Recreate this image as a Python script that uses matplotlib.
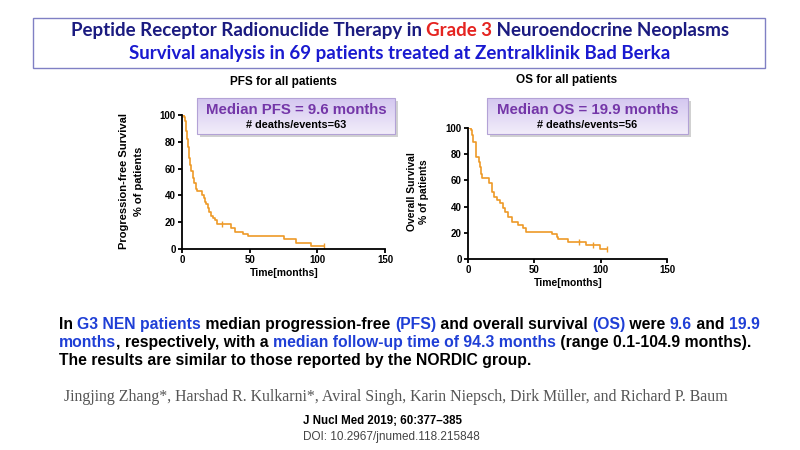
import matplotlib
matplotlib.use('Agg')
import matplotlib.pyplot as plt
import numpy as np
from matplotlib.patches import Rectangle

# Kaplan-Meier step data (time in months, survival in %)
pfs_t = [0, 1.5, 2.5, 3, 3.5, 4.5, 5.5, 6, 7, 8, 9, 10, 11, 15, 16, 17, 18, 19, 20,
         21.5, 23, 24.5, 26, 36, 39, 45, 49, 75, 84, 95, 105]
pfs_s = [100, 98.6, 95.7, 88, 82, 76, 68, 63, 58, 53, 49, 45, 43.5, 40.6, 37.7, 34.8,
         33.3, 30.4, 27.5, 24.6, 23.2, 21.7, 18.8, 15.9, 13.0, 11.5, 9.5, 7.5, 4.8, 2.0, 2.0]
pfs_cens_t = [29.5, 105]
pfs_cens_s = [18.8, 2.0]

os_t = [0, 2.3, 3.2, 4, 5.8, 8.3, 9, 9.8, 10.3, 16, 18.3, 19.8, 21.6, 24, 26.6, 27.9,
        30, 33, 38, 41.7, 43.5, 63, 67, 68, 75, 89, 99.5, 104.5]
os_s = [100, 98.6, 95, 89.6, 78, 74, 70.5, 65, 61.6, 57.8, 51, 47.6, 45, 42.5, 38.7, 36,
        32, 28.5, 26, 23.4, 20.8, 19, 17, 15, 13, 10.7, 7.6, 7.6]
os_cens_t = [83.4, 94.5, 104.5]
os_cens_s = [13, 10.7, 7.6]

x_ticks = [0, 50, 100, 150]
y_ticks = [0, 20, 40, 60, 80, 100]

curve_col = '#ee9a28'
sans = ['Liberation Sans', 'DejaVu Sans']

fig = plt.figure(figsize=(8, 4.5), dpi=100)
W, H = 800, 450


def px_axes(left, top, right, bottom):
    return fig.add_axes([left / W, 1 - bottom / H, (right - left) / W, (bottom - top) / H])


def km_plot(ax, t, s, ct, cs, fs):
    ax.step(t, s, where='post', color=curve_col, lw=1.2)
    ax.plot(ct, cs, ls='none', marker='|', ms=5, mew=1.0, color=curve_col)
    ax.set_xlim(0, 150)
    ax.set_ylim(0, 100)
    ax.set_xticks(x_ticks)
    ax.set_yticks(y_ticks)
    for sp in ['top', 'right']:
        ax.spines[sp].set_visible(False)
    for sp in ['left', 'bottom']:
        ax.spines[sp].set_linewidth(1.3)
    ax.tick_params(length=3, width=1.3, labelsize=fs, pad=1.5)
    for lab in ax.get_xticklabels() + ax.get_yticklabels():
        lab.set_fontweight('bold')
        lab.set_family(sans)
    ax.patch.set_alpha(0)


# PFS chart
ax1 = px_axes(182, 115, 385, 249)
km_plot(ax1, pfs_t, pfs_s, pfs_cens_t, pfs_cens_s, 7)

# OS chart
ax2 = px_axes(468, 128, 667, 259)
km_plot(ax2, os_t, os_s, os_cens_t, os_cens_s, 7)

# overlay in pixel coordinates for all slide text and boxes
ov = fig.add_axes([0, 0, 1, 1], zorder=5)
ov.patch.set_alpha(0)
ov.axis('off')
ov.set_xlim(0, W)
ov.set_ylim(H, 0)

# title box
ov.add_patch(Rectangle((33, 18), 732, 50, fill=False, ec='#8080c4', lw=1.0))


def colored_line(x, y, pieces, center=False, **kw):
    # pieces share one baseline; x positions from measured widths (1 data unit = 1 px)
    r = fig.canvas.get_renderer()
    texts = [ov.text(0, y, s, color=c, ha='left', va='baseline', **kw) for s, c in pieces]
    widths = [t.get_window_extent(r).width for t in texts]
    x0 = x - sum(widths) / 2 if center else x
    for t, w in zip(texts, widths):
        t.set_x(x0)
        x0 += w
    return texts


navy = '#1b1b80'
red = '#e52420'
blue2 = '#1a1ad0'
colored_line(400, 36, [('Peptide Receptor Radionuclide Therapy in ', navy),
                       ('Grade 3', red), (' Neuroendocrine Neoplasms', navy)],
             center=True, fontsize=13.5, fontweight='bold', family=['Lato', 'DejaVu Sans'])
ov.text(400, 53, 'Survival analysis in 69 patients treated at Zentralklinik Bad Berka',
        color=blue2, ha='center', va='center', fontsize=13.5, fontweight='bold',
        family=['Lato', 'DejaVu Sans'])

# chart titles and axis labels
ov.text(283, 82, 'PFS for all patients', ha='center', va='center', fontsize=8.5,
        fontweight='bold', family=sans)
ov.text(567, 80, 'OS for all patients', ha='center', va='center', fontsize=8.5,
        fontweight='bold', family=sans)
ov.text(284, 273, 'Time[months]', ha='center', va='center', fontsize=7.5,
        fontweight='bold', family=sans)
ov.text(568, 283, 'Time[months]', ha='center', va='center', fontsize=7.5,
        fontweight='bold', family=sans)
ov.text(124, 181, 'Progression-free Survival', rotation=90, ha='center', va='center',
        fontsize=8, fontweight='bold', family=sans)
ov.text(139, 181, '% of patients', rotation=90, ha='center', va='center',
        fontsize=8, fontweight='bold', family=sans)
ov.text(412, 192, 'Overall Survival', rotation=90, ha='center', va='center',
        fontsize=7.5, fontweight='bold', family=sans)
ov.text(424, 192, '% of patients', rotation=90, ha='center', va='center',
        fontsize=7.5, fontweight='bold', family=sans)

# median boxes with gradient and shadow
grad = np.linspace(0, 1, 64).reshape(-1, 1)
top_c = np.array([0.83, 0.78, 0.94])
bot_c = np.array([0.95, 0.93, 0.98])
grad_img = top_c * (1 - grad[..., None]) + bot_c * grad[..., None]


def median_box(l, t, r, b, line1, line2):
    ov.add_patch(Rectangle((l + 3, t + 3), r - l, b - t, fc='#9a9a9a', ec='none',
                           alpha=0.45, zorder=1))
    ov.imshow(grad_img, extent=(l, r, b, t), aspect='auto', zorder=2)
    ov.add_patch(Rectangle((l, t), r - l, b - t, fill=False, ec='#b3a2d6', lw=0.8, zorder=3))
    cx = (l + r) / 2
    ov.text(cx, t + 12, line1, ha='center', va='center', color='#7436a8', fontsize=10.8,
            fontweight='bold', family=sans, zorder=4)
    ov.text(cx, t + 27, line2, ha='center', va='center', color='black', fontsize=7.8,
            fontweight='bold', family=sans, zorder=4)


median_box(197, 98, 395, 134, 'Median PFS = 9.6 months', '# deaths/events=63')
median_box(487, 98, 688, 134, 'Median OS = 19.9 months', '# deaths/events=56')

# summary text
blue = '#1f3fd6'
blk = 'black'
body = dict(fontsize=11.3, fontweight='bold', family=sans)
colored_line(59, 329, [('In ', blk), ('G3 NEN patients', blue), (' median progression-free ', blk),
                       ('(PFS)', blue), (' and overall survival ', blk), ('(OS)', blue),
                       (' were ', blk), ('9.6', blue), (' and ', blk), ('19.9', blue)], **body)
colored_line(59, 347, [('months', blue), (', respectively, with a ', blk),
                       ('median follow-up time of 94.3 months', blue),
                       (' (range 0.1-104.9 months).', blk)], **body)
colored_line(59, 365, [('The results are similar to those reported by the NORDIC group.', blk)],
             **body)

ov.text(64, 397, 'Jingjing Zhang*, Harshad R. Kulkarni*, Aviral Singh, Karin Niepsch, '
        'Dirk Müller, and Richard P. Baum', ha='left', va='center', color='#555555',
        fontsize=11.4, family=['Liberation Serif', 'DejaVu Serif'])
ov.text(303, 421, 'J Nucl Med 2019; 60:377\u2013385', ha='left', va='center', color='black',
        fontsize=8.3, fontweight='bold', family=sans)
ov.text(303, 437, 'DOI: 10.2967/jnumed.118.215848', ha='left', va='center', color='#444444',
        fontsize=8.5, family=sans)

fig.savefig('out.png', dpi=100)
